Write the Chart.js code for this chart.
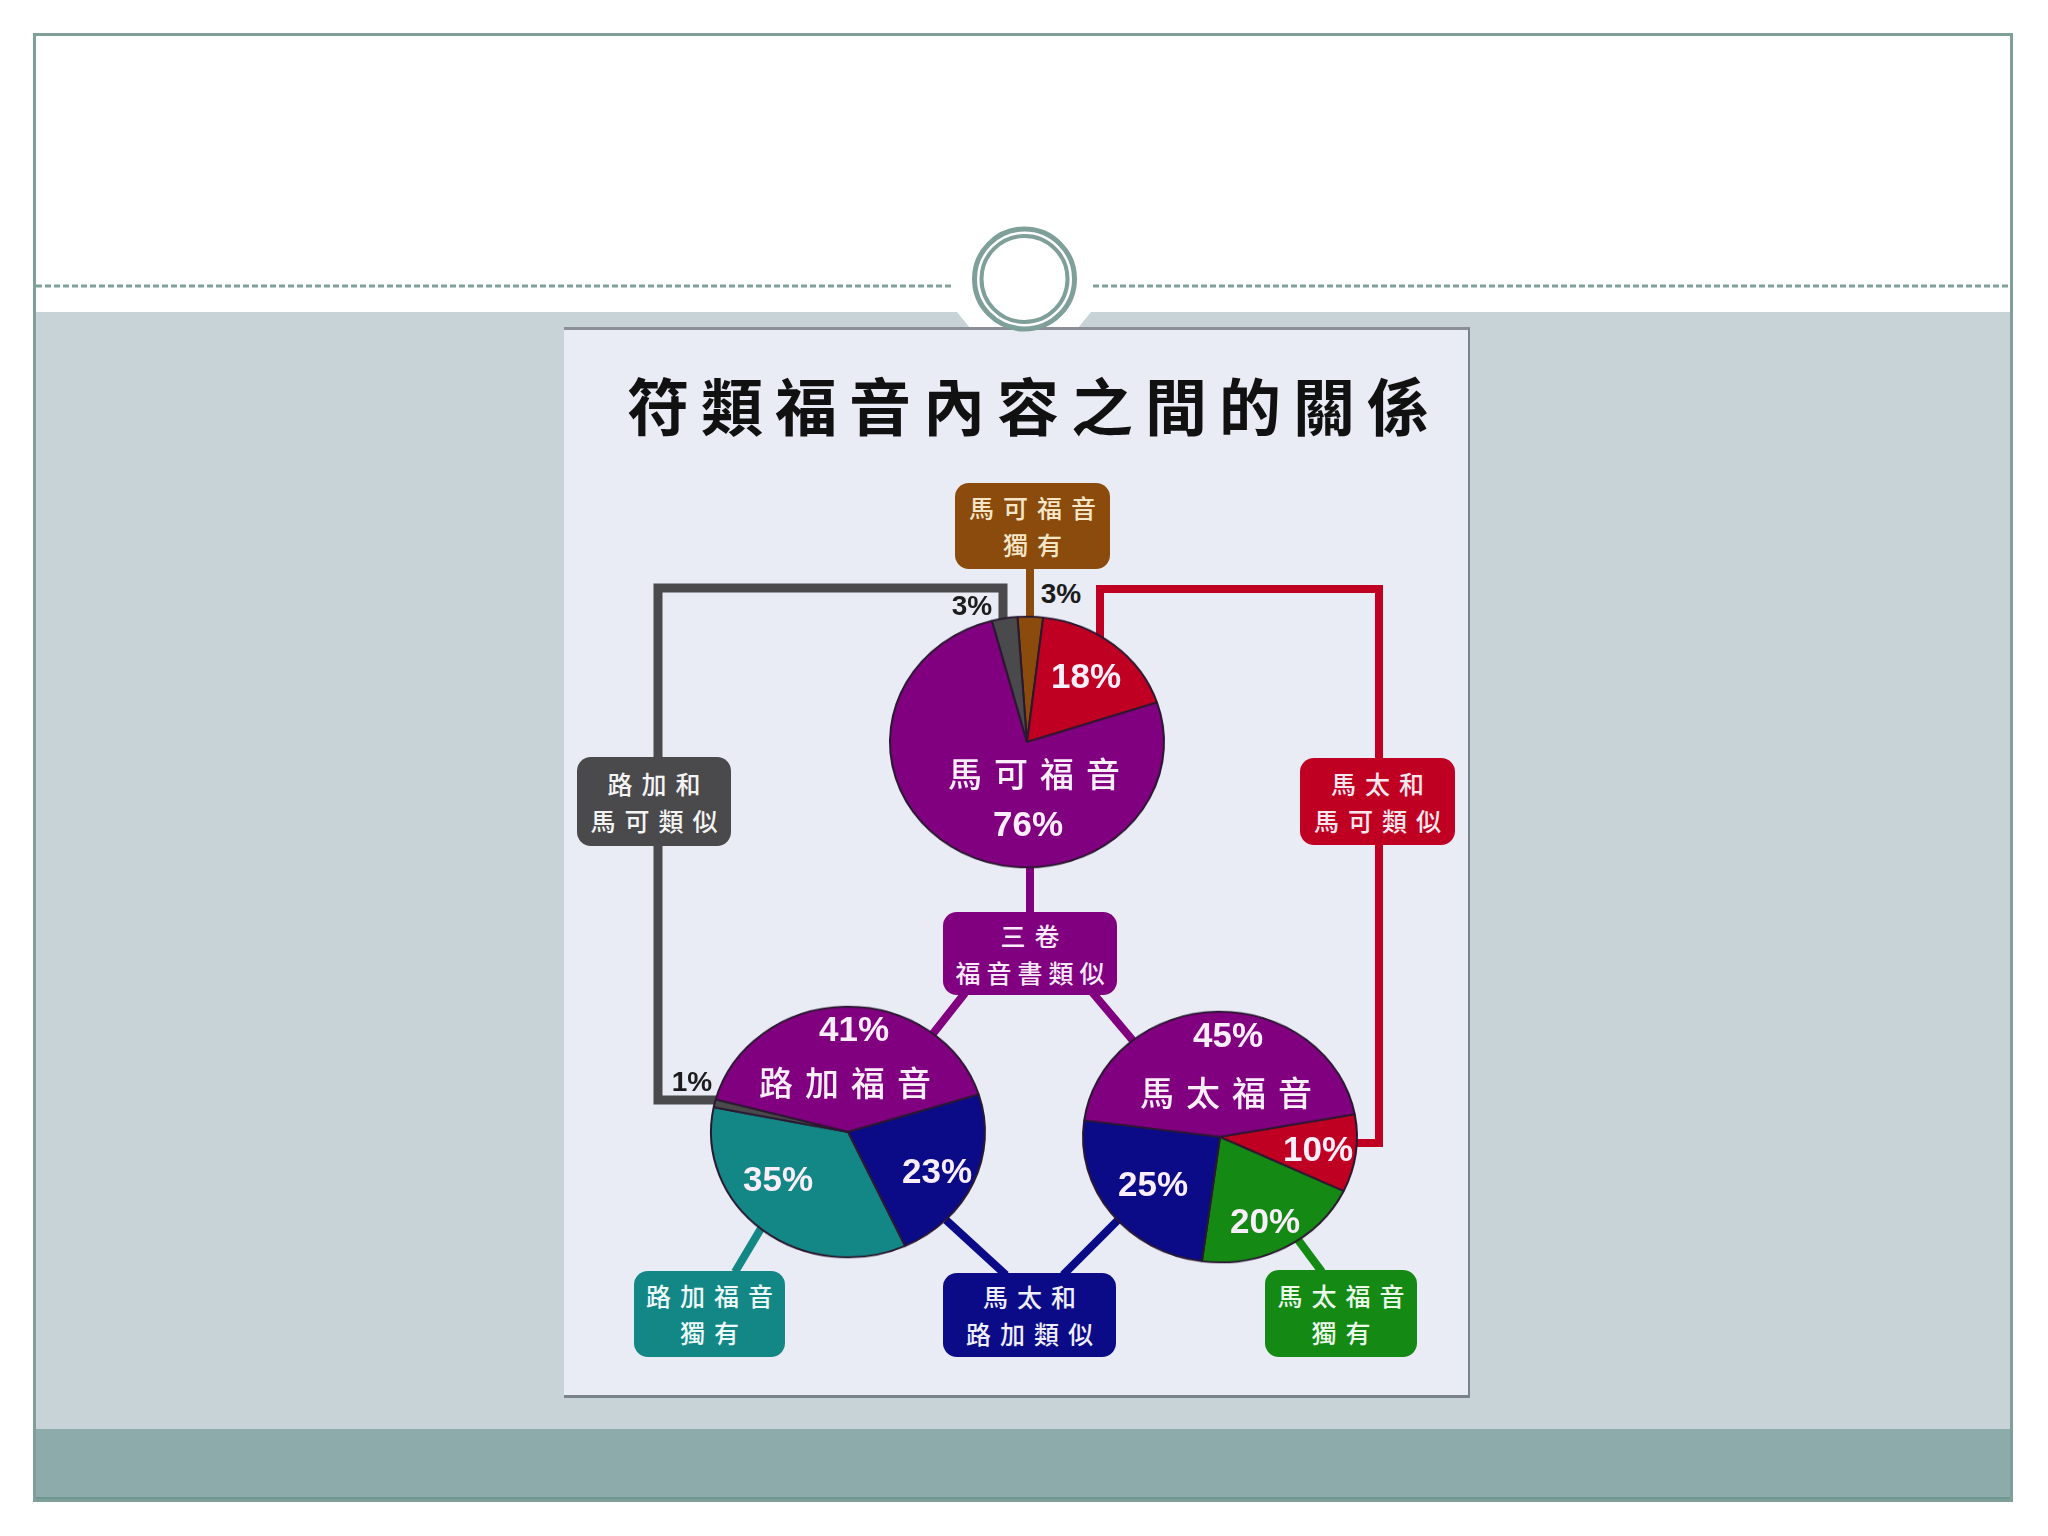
<!DOCTYPE html>
<html><head><meta charset="utf-8">
<script src="https://cdn.jsdelivr.net/npm/chart.js@4.4.1/dist/chart.umd.min.js"></script>
<style>
html,body{margin:0;padding:0;background:#fff;}
#page{position:relative;width:2048px;height:1536px;overflow:hidden;background:#fff;font-family:"Noto Sans CJK TC","Noto Sans",sans-serif;}
.abs{position:absolute;}
.box{position:absolute;border-radius:14px;display:flex;flex-direction:column;align-items:center;justify-content:center;font-size:25px;line-height:37px;font-weight:500;box-sizing:border-box;white-space:nowrap;overflow:visible;}
.box div{letter-spacing:9px;margin-right:-9px;white-space:nowrap;}
.lbl{position:absolute;transform:translate(-50%,-50%);white-space:nowrap;line-height:1;}
.pct{font-family:"Liberation Sans",Arial,sans-serif;font-weight:700;font-size:35px;color:#fbeefb;}
.out{font-family:"Liberation Sans",Arial,sans-serif;font-weight:700;font-size:28px;color:#1c1c1c;}
.cjk{font-size:34px;font-weight:500;letter-spacing:12px;padding-left:12px;color:#fbeefb;}
.pie{position:absolute;width:290px;height:290px;transform:scaleY(0.915);}
</style></head>
<body>
<div id="page">
  <div class="abs" style="left:33px;top:312px;width:1979px;height:1117px;background:#c7d3d7;"></div>
  <div class="abs" style="left:33px;top:1429px;width:1979px;height:71px;background:#8eabab;border-bottom:3px solid #6e9691;box-sizing:border-box;"></div>
  <div class="abs" style="left:33px;top:33px;width:1980px;height:1469px;border:3px solid #7f9f99;box-sizing:border-box;"></div>
  <svg class="abs" style="left:0;top:0" width="2048" height="340">
    <line x1="36" y1="286" x2="953" y2="286" stroke="#7f9f99" stroke-width="3" stroke-dasharray="6 3"/>
    <line x1="1093" y1="286" x2="2010" y2="286" stroke="#7f9f99" stroke-width="3" stroke-dasharray="6 3"/>
    <polygon points="957,312 1091,312 1078,328 970,328" fill="#ffffff"/>
  </svg>
  <div class="abs" style="left:564px;top:327px;width:906px;height:1071px;background:#e9ebf5;border-top:3px solid #8c9096;border-right:2px solid #7b838a;border-bottom:3px solid #7b838a;box-sizing:border-box;"></div>
  <svg class="abs" style="left:0;top:0" width="2048" height="340">
    <circle cx="1024.5" cy="279" r="50" fill="#ffffff" stroke="#7f9f99" stroke-width="5"/>
    <circle cx="1024.5" cy="279" r="43" fill="#ffffff" stroke="#7f9f99" stroke-width="4"/>
  </svg>
  <div class="lbl" id="title" style="left:1034px;top:404px;font-size:62px;font-weight:700;letter-spacing:12px;color:#111;">符類福音內容之間的關係</div>
  <svg class="abs" style="left:0;top:0" width="2048" height="1536" id="links"></svg>
  <div id="pies"></div>
  <div id="boxes"></div>
  <div id="labels"></div>
</div>
<script>
// ---- data ----
const markCategories = ['馬可福音獨有', '馬太和馬可類似', '三卷福音書類似', '路加和馬可類似'];
const markValues = [3, 18, 76, 3];
const lukeCategories = ['三卷福音書類似', '馬太和路加類似', '路加福音獨有', '路加和馬可類似'];
const lukeValues = [41, 23, 35, 1];
const matthewCategories = ['三卷福音書類似', '馬太和馬可類似', '馬太福音獨有', '馬太和路加類似'];
const matthewValues = [45, 10, 20, 25];
const pieNames = ['馬可福音', '路加福音', '馬太福音'];
const boxTexts = {
  '馬可福音獨有': ['馬可福音', '獨有'],
  '路加和馬可類似': ['路加和', '馬可類似'],
  '馬太和馬可類似': ['馬太和', '馬可類似'],
  '三卷福音書類似': ['三卷', '福音書類似'],
  '路加福音獨有': ['路加福音', '獨有'],
  '馬太和路加類似': ['馬太和', '路加類似'],
  '馬太福音獨有': ['馬太福音', '獨有']
};

// ---- styles / layout ----
const colorOf = {
  '馬可福音獨有': '#8a4b0c',
  '馬太和馬可類似': '#c00022',
  '三卷福音書類似': '#800080',
  '路加和馬可類似': '#4a4a4c',
  '馬太和路加類似': '#0b0b88',
  '路加福音獨有': '#138786',
  '馬太福音獨有': '#148a14'
};
const boxTextColor = {
  '馬可福音獨有': '#f6e6c8', '路加和馬可類似': '#f4f4f4', '馬太和馬可類似': '#fbe8ee',
  '三卷福音書類似': '#fbeafb', '路加福音獨有': '#eefafa', '馬太和路加類似': '#eeeefc', '馬太福音獨有': '#ecfaea'
};
const boxRects = {
  '馬可福音獨有': [955, 483, 155, 86],
  '路加和馬可類似': [577, 757, 154, 89],
  '馬太和馬可類似': [1300, 758, 155, 87],
  '三卷福音書類似': [943, 912, 174, 83],
  '路加福音獨有': [634, 1271, 151, 86],
  '馬太和路加類似': [943, 1273, 173, 84],
  '馬太福音獨有': [1265, 1270, 152, 87]
};
const links = [
  ['路加和馬可類似', 'M1003 624 V588 H658 V1100 H718', 9],
  ['馬可福音獨有', 'M1030 569 V622', 8],
  ['馬太和馬可類似', 'M1100 640 V589 H1379 V1143 H1352', 8],
  ['三卷福音書類似', 'M1030 860 V912', 8],
  ['三卷福音書類似', 'M965 993 L928 1040', 8],
  ['三卷福音書類似', 'M1092 992 L1135 1043', 8],
  ['路加福音獨有', 'M763 1225 L735 1272', 8],
  ['馬太和路加類似', 'M946 1220 L1006 1275', 8],
  ['馬太和路加類似', 'M1118 1220 L1063 1275', 8],
  ['馬太福音獨有', 'M1296 1237 L1322 1272', 8]
];
const pies = [
  { id: 'mark', cats: markCategories, vals: markValues, cx: 1027, cy: 742, rot: -4,
    name: [1034, 773], pos: [[1061, 594, 'out'], [1086, 675, 'in'], [1028, 823, 'in'], [972, 606, 'out']] },
  { id: 'luke', cats: lukeCategories, vals: lukeValues, cx: 848, cy: 1132, rot: -75,
    name: [845, 1082], pos: [[854, 1028, 'in'], [937, 1170, 'in'], [778, 1178, 'in'], [692, 1082, 'out']] },
  { id: 'matthew', cats: matthewCategories, vals: matthewValues, cx: 1220, cy: 1137, rot: -82.4,
    name: [1226, 1092], pos: [[1228, 1034, 'in'], [1318, 1148, 'in'], [1265, 1220, 'in'], [1153, 1183, 'in']] }
];

// ---- connectors ----
const svg = document.getElementById('links');
links.forEach(([cat, d, w]) => {
  const p = document.createElementNS('http://www.w3.org/2000/svg', 'path');
  p.setAttribute('d', d); p.setAttribute('fill', 'none');
  p.setAttribute('stroke', colorOf[cat]); p.setAttribute('stroke-width', w);
  p.setAttribute('stroke-linejoin', 'miter');
  svg.appendChild(p);
});

// ---- pies ----
const pieHost = document.getElementById('pies');
const labelHost = document.getElementById('labels');
pies.forEach((pc, k) => {
  const wrap = document.createElement('div');
  wrap.className = 'pie';
  wrap.style.left = (pc.cx - 145) + 'px';
  wrap.style.top = (pc.cy - 145) + 'px';
  const cv = document.createElement('canvas');
  cv.width = 290; cv.height = 290;
  wrap.appendChild(cv);
  pieHost.appendChild(wrap);
  new Chart(cv, {
    type: 'pie',
    data: { labels: pc.cats, datasets: [{ data: pc.vals, backgroundColor: pc.cats.map(c => colorOf[c]),
      borderColor: '#2a1830', borderWidth: 2 }] },
    options: { responsive: false, animation: false, rotation: pc.rot, radius: 137,
      layout: { padding: 0 },
      plugins: { legend: { display: false }, tooltip: { enabled: false } } }
  });
  pc.vals.forEach((v, i) => {
    const d = document.createElement('div');
    d.className = 'lbl ' + (pc.pos[i][2] === 'out' ? 'out' : 'pct');
    d.style.left = pc.pos[i][0] + 'px'; d.style.top = pc.pos[i][1] + 'px';
    d.textContent = v + '%';
    labelHost.appendChild(d);
  });
  const n = document.createElement('div');
  n.className = 'lbl cjk';
  n.style.left = pc.name[0] + 'px'; n.style.top = pc.name[1] + 'px';
  n.textContent = pieNames[k];
  labelHost.appendChild(n);
});

// ---- boxes ----
const boxHost = document.getElementById('boxes');
Object.keys(boxRects).forEach(cat => {
  const [x, y, w, h] = boxRects[cat];
  const b = document.createElement('div');
  b.className = 'box';
  b.style.left = x + 'px'; b.style.top = y + 'px'; b.style.width = w + 'px'; b.style.height = h + 'px';
  b.style.background = colorOf[cat]; b.style.color = boxTextColor[cat];
  boxTexts[cat].forEach(t => {
    const s = document.createElement('div'); s.textContent = t;
    if (t.length >= 5) { s.style.letterSpacing = '6px'; s.style.marginRight = '-6px'; }
    b.appendChild(s);
  });
  boxHost.appendChild(b);
});
</script>
</body></html>
